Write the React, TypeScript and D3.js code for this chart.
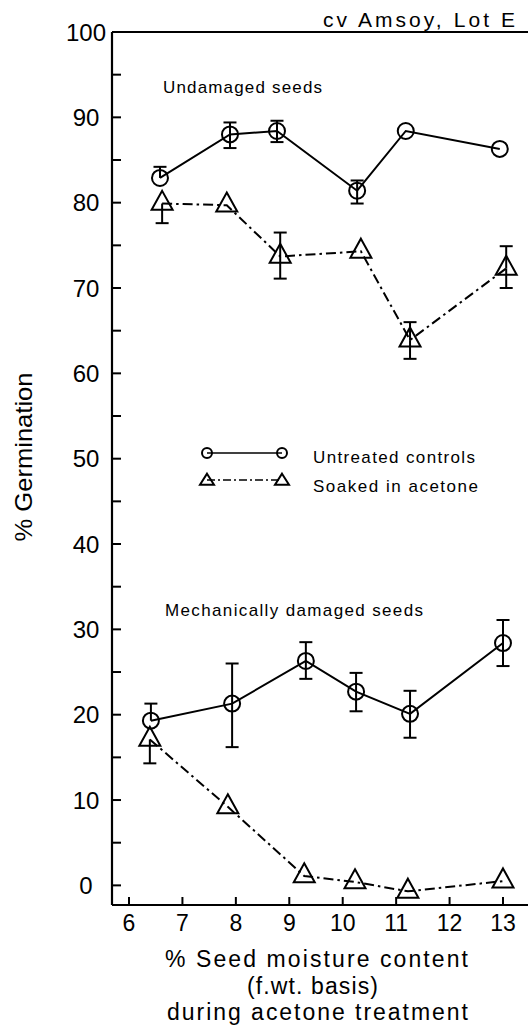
import React from "react";
import * as d3 from "d3";

// ---- data ----
const yTicks = [0, 10, 20, 30, 40, 50, 60, 70, 80, 90, 100];
const yMinorTicks = [5, 15, 25, 35, 45, 55, 65, 75, 85, 95];
const xTicks = [6, 7, 8, 9, 10, 11, 12, 13];

// Undamaged seeds
const undCtrlX = [6.58, 7.89, 8.77, 10.27, 11.18, 12.94];
const undCtrlY = [82.9, 88.0, 88.4, 81.4, 88.4, 86.3];
const undCtrlErrUp = [1.3, 1.4, 1.2, 1.2, 0, 0];
const undCtrlErrDn = [0, 1.6, 1.3, 1.5, 0, 0];

const undAcetX = [6.62, 7.83, 8.83, 10.34, 11.26, 13.06];
const undAcetY = [79.9, 79.7, 73.7, 74.3, 63.9, 72.3];
const undAcetErrUp = [0, 0, 2.8, 0, 2.1, 2.6];
const undAcetErrDn = [2.3, 0, 2.6, 0, 2.2, 2.3];

// Mechanically damaged seeds
const dmgCtrlX = [6.41, 7.93, 9.31, 10.25, 11.26, 13.0];
const dmgCtrlY = [19.3, 21.3, 26.3, 22.7, 20.1, 28.4];
const dmgCtrlErrUp = [2.0, 4.7, 2.2, 2.2, 2.7, 2.7];
const dmgCtrlErrDn = [0, 5.1, 2.1, 2.3, 2.8, 2.7];

const dmgAcetX = [6.39, 7.85, 9.28, 10.23, 11.22, 13.0];
const dmgAcetY = [17.1, 9.2, 1.1, 0.4, -0.7, 0.5];
const dmgAcetErrUp = [0, 0, 0, 0, 0, 0];
const dmgAcetErrDn = [2.8, 0, 0, 0, 0, 0];

const legendLabels = ["Untreated controls", "Soaked in acetone"];

const W = 528;
const H = 1029;
const FONT = "'Liberation Sans', Arial, Helvetica, sans-serif";

const x = d3.scaleLinear().domain([6, 13]).range([129, 503]);
const y = d3.scaleLinear().domain([-2.3, 100]).range([905, 32]);

const DASHDOT = "10,4,2.5,4";

type Series = {
  xs: number[];
  ys: number[];
  up: number[];
  dn: number[];
  kind: "circle" | "triangle";
};

const series: Series[] = [
  { xs: undCtrlX, ys: undCtrlY, up: undCtrlErrUp, dn: undCtrlErrDn, kind: "circle" },
  { xs: undAcetX, ys: undAcetY, up: undAcetErrUp, dn: undAcetErrDn, kind: "triangle" },
  { xs: dmgCtrlX, ys: dmgCtrlY, up: dmgCtrlErrUp, dn: dmgCtrlErrDn, kind: "circle" },
  { xs: dmgAcetX, ys: dmgAcetY, up: dmgAcetErrUp, dn: dmgAcetErrDn, kind: "triangle" },
];

function trianglePath(cx: number, cy: number, w: number, h: number) {
  const p = d3.path();
  p.moveTo(cx, cy - (2 * h) / 3);
  p.lineTo(cx + w / 2, cy + h / 3);
  p.lineTo(cx - w / 2, cy + h / 3);
  p.closePath();
  return p.toString();
}

function Marker({ kind, cx, cy, small }: { kind: string; cx: number; cy: number; small?: boolean }) {
  if (kind === "circle") {
    return <circle cx={cx} cy={cy} r={small ? 5 : 8} fill="none" stroke="#000" strokeWidth={2} />;
  }
  return (
    <path
      d={small ? trianglePath(cx, cy + 1, 14, 11) : trianglePath(cx, cy, 21, 19)}
      fill="none"
      stroke="#000"
      strokeWidth={2}
      strokeLinejoin="miter"
    />
  );
}

export default function App() {
  const line = d3
    .line<[number, number]>()
    .x((d) => x(d[0]))
    .y((d) => y(d[1]));

  const axisLeft = x.invert(112);
  const axisRight = x.invert(530);

  return (
    <svg
      width={W}
      height={H}
      viewBox={`0 0 ${W} ${H}`}
      style={{ position: "absolute", left: 0, top: 0, background: "#fff" }}
      fontFamily={FONT}
    >
      <rect x={0} y={0} width={W} height={H} fill="#fff" />

      {/* title */}
      <text x={323} y={27} fontSize={21} textLength={192} lengthAdjust="spacing" fill="#000">
        cv Amsoy, Lot E
      </text>

      {/* frame */}
      <line x1={x(axisLeft)} x2={x(axisRight)} y1={y(100)} y2={y(100)} stroke="#000" strokeWidth={2} />
      <line x1={x(axisLeft)} x2={x(axisLeft)} y1={y(100)} y2={y(-2.3)} stroke="#000" strokeWidth={2.2} />
      <line x1={x(axisLeft)} x2={x(axisRight)} y1={y(-2.3)} y2={y(-2.3)} stroke="#000" strokeWidth={2.2} />

      {/* y ticks */}
      {yTicks.concat(yMinorTicks).map((t) => (
        <line key={"yt" + t} x1={x(axisLeft)} x2={x(axisLeft) + 9} y1={y(t)} y2={y(t)} stroke="#000" strokeWidth={2} />
      ))}
      {yTicks.map((t) => (
        <text key={"yl" + t} x={86} y={y(t)} dy="0.36em" textAnchor="middle" fontSize={24} fill="#000">
          {t}
        </text>
      ))}

      {/* x ticks */}
      {xTicks.map((t) => (
        <line key={"xt" + t} x1={x(t)} x2={x(t)} y1={y(-2.3)} y2={y(-2.3) - 8} stroke="#000" strokeWidth={2} />
      ))}
      {xTicks.map((t) => (
        <text key={"xl" + t} x={x(t)} y={931} textAnchor="middle" fontSize={23} fill="#000">
          {t}
        </text>
      ))}

      {/* axis titles */}
      <text
        transform="translate(32,457) rotate(-90)"
        textAnchor="middle"
        fontSize={24}
        textLength={169}
        lengthAdjust="spacingAndGlyphs"
        fill="#000"
      >
        % Germination
      </text>
      <text x={165} y={967} fontSize={23} textLength={303} lengthAdjust="spacing" fill="#000">
        % Seed moisture content
      </text>
      <text x={247} y={994} fontSize={23} textLength={131} lengthAdjust="spacing" fill="#000">
        (f.wt. basis)
      </text>
      <text x={167} y={1020} fontSize={23} textLength={301} lengthAdjust="spacing" fill="#000">
        during acetone treatment
      </text>

      {/* panel labels */}
      <text x={163} y={93} fontSize={17} textLength={159} lengthAdjust="spacing" fill="#000">
        Undamaged seeds
      </text>
      <text x={165} y={616} fontSize={17} textLength={258} lengthAdjust="spacing" fill="#000">
        Mechanically damaged seeds
      </text>

      {/* series lines */}
      {series.map((s, i) => (
        <path
          key={"ln" + i}
          d={line(s.xs.map((v, j) => [v, s.ys[j]] as [number, number])) || ""}
          fill="none"
          stroke="#000"
          strokeWidth={2}
          strokeDasharray={s.kind === "triangle" ? DASHDOT : undefined}
        />
      ))}

      {/* error bars */}
      {series.map((s, i) =>
        s.xs.map((v, j) => {
          const cx = x(v);
          const els: React.ReactNode[] = [];
          if (s.up[j] > 0) {
            const yt = y(s.ys[j] + s.up[j]);
            els.push(<line key="u" x1={cx} x2={cx} y1={y(s.ys[j])} y2={yt} stroke="#000" strokeWidth={2} />);
            els.push(<line key="uc" x1={cx - 6.5} x2={cx + 6.5} y1={yt} y2={yt} stroke="#000" strokeWidth={2} />);
          }
          if (s.dn[j] > 0) {
            const yb = y(s.ys[j] - s.dn[j]);
            els.push(<line key="d" x1={cx} x2={cx} y1={y(s.ys[j])} y2={yb} stroke="#000" strokeWidth={2} />);
            els.push(<line key="dc" x1={cx - 6.5} x2={cx + 6.5} y1={yb} y2={yb} stroke="#000" strokeWidth={2} />);
          }
          return <g key={"eb" + i + "-" + j}>{els}</g>;
        })
      )}

      {/* markers */}
      {series.map((s, i) =>
        s.xs.map((v, j) => <Marker key={"mk" + i + "-" + j} kind={s.kind} cx={x(v)} cy={y(s.ys[j])} />)
      )}

      {/* legend */}
      <g>
        <line x1={207} x2={282} y1={453} y2={453} stroke="#000" strokeWidth={1.6} />
        <Marker kind="circle" cx={207} cy={453} small />
        <Marker kind="circle" cx={282} cy={453} small />
        <text x={313} y={463} fontSize={17} textLength={162} lengthAdjust="spacing" fill="#000">
          {legendLabels[0]}
        </text>
        <line x1={207} x2={282} y1={480} y2={480} stroke="#000" strokeWidth={1.6} strokeDasharray="8,3,2,3" />
        <Marker kind="triangle" cx={207} cy={480} small />
        <Marker kind="triangle" cx={282} cy={480} small />
        <text x={313} y={492} fontSize={17} textLength={165} lengthAdjust="spacing" fill="#000">
          {legendLabels[1]}
        </text>
      </g>
    </svg>
  );
}
